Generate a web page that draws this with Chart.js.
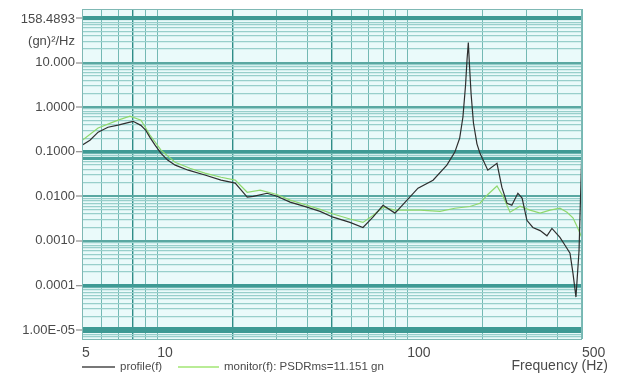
<!DOCTYPE html>
<html>
<head>
<meta charset="utf-8">
<script src="https://cdn.jsdelivr.net/npm/chart.js@4/dist/chart.umd.min.js"></script>
<style>
html,body{margin:0;padding:0;background:#fff;}
canvas{display:block;}
</style>
</head>
<body>
<canvas id="c" width="619" height="374"></canvas>
<script>
// ---- data ----
const profileFreq = [5, 5.38, 5.8, 6.35, 6.97, 7.5, 8.0, 8.6, 9.0, 9.35, 9.8, 10.35, 11.0, 11.8, 13.3, 15.5, 18.0, 20.5, 22.9, 24.2, 27.5, 30.1, 34.0, 39.7, 44.8, 50.5, 59.0, 66.5, 72.9, 80, 89.3, 99.8, 110.4, 126.8, 144, 155, 162, 167, 171, 173.5, 175.5, 177.5, 180, 184, 190, 195.4, 210, 228.5, 239, 250.6, 262, 277, 288, 301, 318, 340, 362, 379, 408, 427.5, 447.7, 460, 473, 486.5, 500];
const profileVals = [0.140, 0.181, 0.274, 0.354, 0.393, 0.436, 0.48, 0.39, 0.30, 0.21, 0.140, 0.092, 0.065, 0.050, 0.0385, 0.030, 0.023, 0.0197, 0.0096, 0.0100, 0.0117, 0.0100, 0.0074, 0.0057, 0.0046, 0.0034, 0.0026, 0.0020, 0.0034, 0.0063, 0.0042, 0.0082, 0.0152, 0.023, 0.050, 0.098, 0.20, 0.60, 3.0, 12, 28, 8, 2.0, 0.44, 0.15, 0.092, 0.0385, 0.055, 0.016, 0.0070, 0.0063, 0.0117, 0.0091, 0.0029, 0.0020, 0.0017, 0.0013, 0.0019, 0.0012, 0.0008, 0.00053, 0.00019, 0.000055, 0.0006, 0.14];

const monitorFreq = [5, 5.8, 6.97, 7.78, 8.61, 9.35, 10.35, 11.78, 13.5, 15.5, 18.0, 20.5, 22.9, 25.8, 30.1, 34.0, 39.7, 44.8, 50.5, 59.0, 66.5, 72.9, 80, 89.3, 112.5, 135.2, 155, 178, 195.4, 210, 228.5, 241.5, 257.6, 282.5, 309.7, 340, 372.4, 408, 435.5, 460, 481.9, 500];
const monitorVals = [0.179, 0.34, 0.51, 0.625, 0.51, 0.237, 0.108, 0.058, 0.0426, 0.033, 0.0267, 0.023, 0.0123, 0.0137, 0.0110, 0.0082, 0.0063, 0.0051, 0.0040, 0.0031, 0.0026, 0.0037, 0.0057, 0.0049, 0.0049, 0.0046, 0.0054, 0.0059, 0.0070, 0.0110, 0.0170, 0.0100, 0.0044, 0.0060, 0.0049, 0.0042, 0.0049, 0.0054, 0.0044, 0.0033, 0.0019, 0.00115];

const xTickValues = [5, 6, 7, 8, 9, 10, 20, 30, 40, 50, 60, 70, 80, 90, 100, 200, 300, 400, 500];
const xTickLabels = {5: '5', 10: '10', 100: '100', 500: '500'};
const yMin = 6.30957e-6, yMax = 158.4893;
const yDecades = [100, 10, 1, 0.1, 0.01, 0.001, 0.0001, 0.00001];
const yDecadeLabels = ['', '10.000', '1.0000', '0.1000', '0.0100', '0.0010', '0.0001', '1.00E-05'];
const yTopLabel = '158.4893';
const yUnitLabel = '(gn)\u00B2/Hz';
const xTitle = 'Frequency (Hz)';
const legendLabels = ['profile(f)', 'monitor(f): PSDRms=11.151 gn'];

// ---- build ----
const yTickValues = [];
for (let k = -6; k <= 2; k++) {
  for (let m = 1; m <= 9; m++) {
    const v = +(m * Math.pow(10, k)).toPrecision(6);
    if (v >= yMin && v <= yMax) yTickValues.push(v);
  }
}
function isDecade(v) { const l = Math.log10(v); return Math.abs(l - Math.round(l)) < 1e-6; }
function yLabelFor(v) {
  for (let i = 0; i < yDecades.length; i++) if (Math.abs(Math.log10(v) - Math.log10(yDecades[i])) < 1e-6) return yDecadeLabels[i];
  return '';
}
const FONT = "'Liberation Sans', Arial, sans-serif";
const TXT = '#4a4a4a';

const plotBg = {
  id: 'plotBg',
  beforeDraw(chart) {
    const {ctx, chartArea: a} = chart;
    ctx.save();
    ctx.fillStyle = '#eafafa';
    ctx.fillRect(a.left, a.top, a.right - a.left, a.bottom - a.top);
    ctx.restore();
  },
  afterDraw(chart) {
    const {ctx, chartArea: a} = chart;
    const ys = chart.scales.y;
    ctx.save();
    ctx.strokeStyle = '#7fb8b4';
    ctx.lineWidth = 1;
    ctx.strokeRect(a.left + 0.5, a.top + 0.5, a.right - a.left - 1, a.bottom - a.top);
    ctx.fillStyle = TXT;
    ctx.font = '13px ' + FONT;
    ctx.textAlign = 'right';
    ctx.textBaseline = 'middle';
    ctx.fillText(yTopLabel, a.left - 7, ys.getPixelForValue(100) + 2);
    ctx.fillText(yUnitLabel, a.left - 7, ys.getPixelForValue(30));
    ctx.font = '14px ' + FONT;
    ctx.textAlign = 'right';
    ctx.fillText(xTitle, 608, 366);
    // legend
    ctx.font = '11.5px ' + FONT;
    ctx.textAlign = 'left';
    ctx.lineWidth = 2;
    ctx.strokeStyle = '#777777';
    ctx.beginPath(); ctx.moveTo(82, 367); ctx.lineTo(115, 367); ctx.stroke();
    ctx.fillText(legendLabels[0], 120, 367);
    ctx.strokeStyle = '#b9ec96';
    ctx.beginPath(); ctx.moveTo(178, 367); ctx.lineTo(219, 367); ctx.stroke();
    ctx.fillText(legendLabels[1], 224, 367);
    ctx.restore();
  }
};

const vDark = [8, 20, 50];
new Chart(document.getElementById('c'), {
  type: 'line',
  data: {
    datasets: [
      { label: legendLabels[0], data: profileFreq.map((f, i) => ({x: f, y: profileVals[i]})),
        borderColor: '#2e2e2e', borderWidth: 1.2, pointRadius: 0, tension: 0, fill: false },
      { label: legendLabels[1], data: monitorFreq.map((f, i) => ({x: f, y: monitorVals[i]})),
        borderColor: '#8fd86c', borderWidth: 1.2, pointRadius: 0, tension: 0, fill: false }
    ]
  },
  options: {
    responsive: false,
    animation: false,
    devicePixelRatio: 1,
    layout: { padding: { left: 0, right: 37, top: 9, bottom: 0 } },
    plugins: { legend: { display: false }, tooltip: { enabled: false } },
    scales: {
      x: {
        type: 'logarithmic', min: 5, max: 500,
        afterBuildTicks(s) { s.ticks = xTickValues.map(v => ({value: v})); },
        afterFit(s) { s.height = 35; },
        border: { display: false },
        grid: {
          drawTicks: false,
          color: c => vDark.includes(c.tick && c.tick.value) ? '#2f8d87' : '#74b9b4',
          lineWidth: c => vDark.includes(c.tick && c.tick.value) ? 1.4 : 1
        },
        ticks: {
          autoSkip: false, maxRotation: 0, align: 'start', padding: 6,
          color: TXT, font: { family: FONT, size: 14 },
          callback: v => xTickLabels[v] || ''
        }
      },
      y: {
        type: 'logarithmic', min: yMin, max: yMax,
        afterBuildTicks(s) { s.ticks = yTickValues.map(v => ({value: v})); },
        afterFit(s) { s.width = 82; },
        border: { display: false },
        grid: {
          tickLength: 6,
          tickWidth: 1,
          tickColor: c => (c.tick && isDecade(c.tick.value) && c.tick.value >= 1e-5) ? '#777' : 'rgba(0,0,0,0)',
          color: c => {
            const v = c.tick && c.tick.value;
            if (!v) return '#8cc8c4';
            if ([100, 0.1, 0.0001, 0.00001].some(d => Math.abs(v / d - 1) < 1e-6)) return '#3e9a94';
            if (Math.abs(v / 0.07 - 1) < 1e-6) return '#4aa39d';
            if (isDecade(v)) return '#5aa8a2';
            return '#98cfcb';
          },
          lineWidth: c => {
            const v = c.tick && c.tick.value;
            if (!v) return 1;
            if (Math.abs(v / 100 - 1) < 1e-6) return 4;
            if (Math.abs(v / 0.00001 - 1) < 1e-6) return 6;
            if (Math.abs(v / 0.1 - 1) < 1e-6 || Math.abs(v / 0.0001 - 1) < 1e-6) return 3.5;
            if (Math.abs(v / 0.07 - 1) < 1e-6) return 3;
            if (isDecade(v)) return 2;
            return 1.3;
          }
        },
        ticks: {
          autoSkip: false, padding: 1,
          color: TXT, font: { family: FONT, size: 13 },
          callback: v => yLabelFor(v)
        }
      }
    }
  },
  plugins: [plotBg]
});
</script>
</body>
</html>
